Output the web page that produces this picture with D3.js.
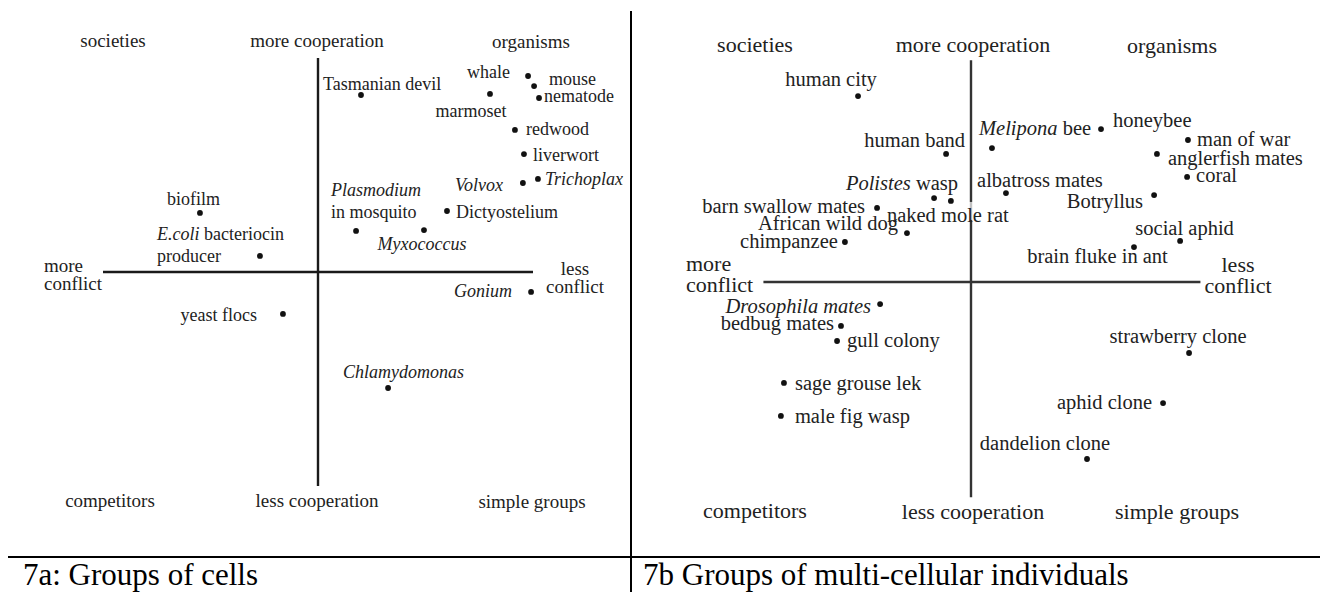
<!DOCTYPE html>
<html>
<head>
<meta charset="utf-8">
<script src="https://cdn.jsdelivr.net/npm/d3@7/dist/d3.min.js"></script>
<style>
  html, body { margin: 0; padding: 0; background: #fff; }
  svg text { font-family: "Liberation Serif", "Times New Roman", serif; fill: #222; }
</style>
</head>
<body>
<svg id="chart" width="1320" height="592"></svg>
<script>
// ---------- DATA ----------
// Panel 7a: groups of cells. conflict axis: negative = more conflict; cooperation: positive = more cooperation
const cellNames = ["biofilm", "_E.coli_ bacteriocin\nproducer", "Tasmanian devil", "whale", "mouse", "marmoset",
  "nematode", "redwood", "liverwort", "_Volvox_", "_Trichoplax_", "_Plasmodium_\nin mosquito",
  "Dictyostelium", "_Myxococcus_", "_Gonium_", "yeast flocs", "_Chlamydomonas_"];
const cellConflict = [-5.49, -2.70, 2.00, 9.77, 10.05, 8.00, 10.28, 9.16, 9.58, 9.53, 10.23, 1.77, 6.00, 4.93, 9.91, -1.63, 3.26];
const cellCooperation = [2.76, 0.75, 8.27, 9.16, 8.69, 8.32, 8.13, 6.64, 5.51, 4.16, 4.35, 1.92, 2.85, 1.96, -0.93, -1.96, -5.42];

// Panel 7b: groups of multi-cellular individuals
const multiNames = ["human city", "human band", "_Melipona_ bee", "honeybee", "man of war", "anglerfish mates",
  "coral", "albatross mates", "Botryllus", "_Polistes_ wasp", "naked mole rat", "barn swallow mates",
  "African wild dog", "chimpanzee", "social aphid", "brain fluke in ant", "_Drosophila mates_",
  "bedbug mates", "gull colony", "sage grouse lek", "male fig wasp", "strawberry clone", "aphid clone", "dandelion clone"];
const multiConflict = [-5.17, -1.14, 0.96, 5.95, 9.93, 8.51, 9.89, 1.60, 8.38, -1.69, -0.92, -4.30,
  -2.93, -5.77, 9.57, 7.46, -4.16, -5.95, -6.13, -8.56, -8.70, 9.98, 8.79, 5.31];
const multiCooperation = [8.51, 5.86, 6.13, 7.00, 6.50, 5.86, 4.81, 4.07, 3.98, 3.84, 3.71, 3.39,
  2.24, 1.83, 1.88, 1.60, -1.01, -2.01, -2.70, -4.62, -6.13, -3.25, -5.54, -8.10];

const quadrantLabels = ["societies", "organisms", "competitors", "simple groups"];
const axisEndLabels = ["more cooperation", "less cooperation", "more\nconflict", "less\nconflict"];
const captions = ["7a: Groups of cells", "7b Groups of multi-cellular individuals"];

// ---------- LAYOUT (positions / styles, kept apart from data) ----------
// label offsets from the dot: [dx, dy(baseline), anchor]
const cellLabelPos = [
  [-6.5, -8, "middle"], [-103, -16, "start"], [-38, -5, "start"], [-18, 2, "end"], [15, -1, "start"],
  [-19, 23, "middle"], [5, 4, "start"], [11, 5, "start"], [9, 7, "start"], [-20, 8, "end"], [7, 6, "start"],
  [-25, -35, "start"], [9, 7, "start"], [-2, 20, "middle"], [-19, 5, "end"], [-26, 7, "end"], [15.5, -10, "middle"]
];
const multiLabelPos = [
  [-27, -10, "middle"], [19, -7, "end"], [-13, -13, "start"], [12, -2, "start"], [9, 6, "start"],
  [11, 11, "start"], [9, 5, "start"], [34, -6, "middle"], [-11, 13, "end"], [24, -8, "end"],
  [-64, 21, "start"], [-12, 5, "end"], [-9, -3, "end"], [-7, 6, "end"], [4.5, -6, "middle"],
  [-36.5, 16, "middle"], [-9, 9, "end"], [-7, 4, "end"], [10, 6, "start"], [11, 7, "start"],
  [14, 7, "start"], [-11, -10, "middle"], [-11, 6, "end"], [-42, -9, "middle"]
];

const panels = [
  {
    names: cellNames, xs: cellConflict, ys: cellCooperation, pos: cellLabelPos,
    xRange: [103, 533], yRange: [486, 58], xExt: [-10, 10], yExt: [-10, 10],
    ptFont: 18, qFont: 19, lineGap: 20, axisColor: "#1a1a1a", axisW: 2.4,
    quad: [[113, 47], [531, 48], [110, 507], [532, 508]],
    ends: [[317, 47, "middle"], [317, 507, "middle"], [44, 272, "start"], [575, 275, "middle"]],
    endGap: 18, veil: null
  },
  {
    names: multiNames, xs: multiConflict, ys: multiCooperation, pos: multiLabelPos,
    xRange: [752.5, 1189.5], yRange: [500.5, 63.5], xExt: [-9.5, 10.5], yExt: [-9.85, 10.15],
    ptFont: 20.5, qFont: 22, lineGap: 20, axisColor: "#333", axisW: 2.4,
    quad: [[755, 52], [1172, 53], [755, 518], [1177, 519]],
    ends: [[973, 52, "middle"], [973, 519, "middle"], [686, 271, "start"], [1238, 272, "middle"]],
    endGap: 21, veil: 10   // index of label whose light backing lightens the axis
  }
];

// ---------- DRAW ----------
const svg = d3.select("#chart");
svg.append("rect").attr("width", 1320).attr("height", 592).attr("fill", "#fff");

function addRichText(sel, str) {
  // supports _italic_ segments
  const parts = str.split(/(_[^_]+_)/).filter(s => s.length);
  parts.forEach(p => {
    const it = p.startsWith("_") && p.endsWith("_");
    sel.append("tspan").attr("font-style", it ? "italic" : null).text(it ? p.slice(1, -1) : p);
  });
}

panels.forEach(P => {
  const x = d3.scaleLinear().domain([-10, 10]).range(P.xRange);
  const y = d3.scaleLinear().domain([-10, 10]).range(P.yRange);
  const g = svg.append("g");

  // axes (cross)
  g.append("line").attr("x1", x(P.xExt[0])).attr("x2", x(P.xExt[1])).attr("y1", y(0)).attr("y2", y(0))
    .attr("stroke", P.axisColor).attr("stroke-width", P.axisW);
  g.append("line").attr("x1", x(0)).attr("x2", x(0)).attr("y1", y(P.yExt[0])).attr("y2", y(P.yExt[1]))
    .attr("stroke", P.axisColor).attr("stroke-width", P.axisW);

  // light backing of one label over the vertical axis (as in the original figure)
  if (P.veil !== null) {
    const cy = y(P.ys[P.veil]);
    g.append("rect").attr("x", x(0) - 3).attr("width", 6).attr("y", cy + 1).attr("height", 18)
      .attr("fill", "#fff").attr("opacity", 0.7);
  }

  // quadrant labels
  quadrantLabels.forEach((q, i) => {
    g.append("text").attr("x", P.quad[i][0]).attr("y", P.quad[i][1])
      .attr("text-anchor", "middle").attr("font-size", P.qFont).text(q);
  });
  // axis end labels
  axisEndLabels.forEach((t, i) => {
    const lines = t.split("\n");
    lines.forEach((ln, j) => {
      g.append("text").attr("x", P.ends[i][0]).attr("y", P.ends[i][1] + j * P.endGap)
        .attr("text-anchor", P.ends[i][2]).attr("font-size", P.qFont).text(ln);
    });
  });

  // points
  P.names.forEach((name, i) => {
    const cx = x(P.xs[i]), cy = y(P.ys[i]);
    g.append("circle").attr("cx", cx).attr("cy", cy).attr("r", 2.9).attr("fill", "#111");
    const [dx, dy, anchor] = P.pos[i];
    name.split("\n").forEach((ln, j) => {
      const t = g.append("text").attr("x", cx + dx).attr("y", cy + dy + j * (P.lineGap + 2))
        .attr("text-anchor", anchor).attr("font-size", P.ptFont);
      addRichText(t, ln);
    });
  });
});

// frame: divider and caption rule
svg.append("line").attr("x1", 631).attr("x2", 631).attr("y1", 11).attr("y2", 592)
  .attr("stroke", "#000").attr("stroke-width", 2);
svg.append("line").attr("x1", 8).attr("x2", 1320).attr("y1", 557).attr("y2", 557)
  .attr("stroke", "#000").attr("stroke-width", 2);
svg.append("text").attr("x", 23).attr("y", 584.5).attr("font-size", 31).style("fill", "#000").text(captions[0]);
svg.append("text").attr("x", 643).attr("y", 584.5).attr("font-size", 31).style("fill", "#000").text(captions[1]);
</script>
</body>
</html>
